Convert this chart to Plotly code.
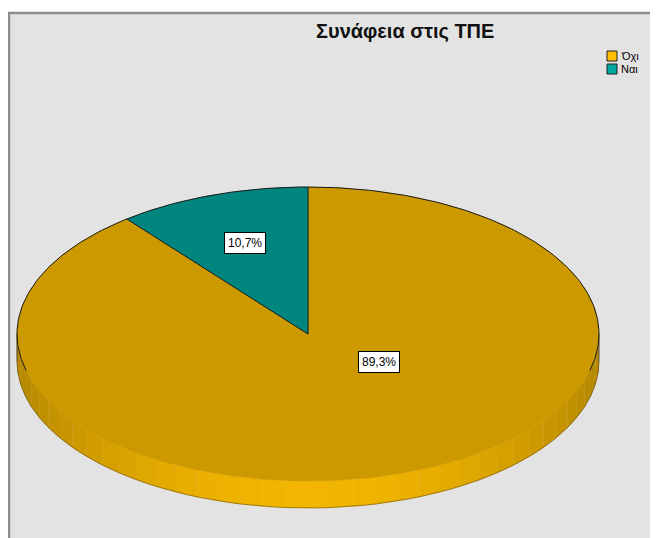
import math
import plotly.graph_objects as go

# ---- data ----
categories = ["Όχι", "Ναι"]
percentages = [89.3, 10.7]
title_text = "Συνάφεια στις ΤΠΕ"

# ---- style ----
W, H = 658, 538
OFF = 8                    # page body margin: map data coords to screen px
CX, CY = 308, 334          # centre of pie top face (px)
RX, RY = 291, 147          # ellipse radii (px)
DEPTH = 27                 # thickness of the 3D rim (px)
top_colors = ["#CC9900", "#00857F"]
side_light = ["#F2B600", "#00A39B"]
side_dark = ["#B58800", "#006E68"]
legend_colors = ["#FFC000", "#00A8A0"]
FONT = "Liberation Sans, Arial, sans-serif"


def pt(phi, depth=0.0):
    """phi: clockwise angle from 12 o'clock, radians."""
    return CX + RX * math.sin(phi), CY - RY * math.cos(phi) + depth


def hex_mix(c1, c2, t):
    a = [int(c1[i:i + 2], 16) for i in (1, 3, 5)]
    b = [int(c2[i:i + 2], 16) for i in (1, 3, 5)]
    m = [round(a[k] + (b[k] - a[k]) * t) for k in range(3)]
    return "#%02X%02X%02X" % tuple(m)


fig = go.Figure()

total = sum(percentages)
bounds = []
acc = 0.0
for p in percentages:
    start = acc / total * 2 * math.pi
    acc += p
    end = acc / total * 2 * math.pi
    bounds.append((start, end))

# ---- side rim (front half: phi between pi/2 and 3pi/2) ----
for i, (s, e) in enumerate(bounds):
    a0, a1 = max(s, math.pi / 2), min(e, 3 * math.pi / 2)
    if a1 <= a0:
        continue
    nseg = max(2, int((a1 - a0) / (math.pi / 40)))
    for k in range(nseg):
        b0 = a0 + (a1 - a0) * k / nseg
        b1 = a0 + (a1 - a0) * (k + 1) / nseg
        mid = (b0 + b1) / 2
        t = abs(math.sin(mid)) ** 2
        col = hex_mix(side_light[i], side_dark[i], t)
        steps = 4
        xs, ys = [], []
        for j in range(steps + 1):
            x, y = pt(b0 + (b1 - b0) * j / steps)
            xs.append(x); ys.append(y)
        for j in range(steps, -1, -1):
            x, y = pt(b0 + (b1 - b0) * j / steps, DEPTH)
            xs.append(x); ys.append(y)
        fig.add_trace(go.Scatter(x=xs, y=ys, fill="toself", mode="lines",
                                 fillcolor=col, line=dict(color=col, width=0.6),
                                 hoverinfo="skip", showlegend=False))
    # bottom edge outline
    xs, ys = [], []
    n = 80
    for j in range(n + 1):
        x, y = pt(a0 + (a1 - a0) * j / n, DEPTH)
        xs.append(x); ys.append(y)
    fig.add_trace(go.Scatter(x=xs, y=ys, mode="lines",
                             line=dict(color="rgba(60,40,0,0.55)", width=0.8),
                             hoverinfo="skip", showlegend=False))

# rim side edges at left and right extremes
for phi in (math.pi / 2, 3 * math.pi / 2):
    x0, y0 = pt(phi)
    x1, y1 = pt(phi, DEPTH)
    fig.add_trace(go.Scatter(x=[x0, x1], y=[y0, y1], mode="lines",
                             line=dict(color="rgba(40,30,0,0.7)", width=1),
                             hoverinfo="skip", showlegend=False))

# ---- top faces ----
for i, (s, e) in enumerate(bounds):
    n = max(8, int((e - s) / (math.pi / 180)))
    xs, ys = [CX], [CY]
    for j in range(n + 1):
        x, y = pt(s + (e - s) * j / n)
        xs.append(x); ys.append(y)
    xs.append(CX); ys.append(CY)
    fig.add_trace(go.Scatter(x=xs, y=ys, fill="toself", mode="lines",
                             fillcolor=top_colors[i],
                             line=dict(color=top_colors[i], width=0.5),
                             hoverinfo="skip", showlegend=False))

# radial edges
for i, (s, e) in enumerate(bounds):
    x, y = pt(s)
    fig.add_trace(go.Scatter(x=[CX, x], y=[CY, y], mode="lines",
                             line=dict(color="#1a1a1a", width=1),
                             hoverinfo="skip", showlegend=False))

# outline of the back arc of the top face
xs, ys = [], []
n = 240
for j in range(n + 1):
    phi = -math.pi * 0.58 + (math.pi * 1.16) * j / n
    x, y = pt(phi)
    xs.append(x); ys.append(y)
fig.add_trace(go.Scatter(x=xs, y=ys, mode="lines",
                         line=dict(color="#1a1a1a", width=1),
                         hoverinfo="skip", showlegend=False))

# ---- value labels ----
label_adjust = {0: (0.244, 0.19)}   # normalised offset for the large slice
for i, (s, e) in enumerate(bounds):
    alpha = e - s
    mid = (s + e) / 2
    if i in label_adjust:
        ux, uy = label_adjust[i]
        lx, ly = CX + ux * RX, CY + uy * RY
    else:
        f = 4 * math.sin(alpha / 2) / (3 * alpha)
        lx = CX + f * RX * math.sin(mid)
        ly = CY - f * RY * math.cos(mid)
    txt = ("%.1f%%" % percentages[i]).replace(".", ",")
    fig.add_annotation(x=lx, y=ly, text=txt, showarrow=False,
                       font=dict(family=FONT, size=12, color="#000000"),
                       bgcolor="#FFFFFF", bordercolor="#000000",
                       borderwidth=1, borderpad=3)

# ---- legend (manual) ----
for i, cat in enumerate(categories):
    y0 = 51 + i * 13
    fig.add_shape(type="rect", xref="x", yref="y", x0=607, x1=617,
                  y0=y0, y1=y0 + 10, fillcolor=legend_colors[i],
                  line=dict(color="#202020", width=1))
    fig.add_annotation(x=619, y=y0 + 5, text=cat, showarrow=False,
                       xanchor="left", yanchor="middle",
                       font=dict(family=FONT, size=11, color="#000000"))

# title
fig.add_annotation(x=405, y=31, text="<b>" + title_text + "</b>", showarrow=False,
                   xanchor="center", yanchor="middle",
                   font=dict(family=FONT, size=20, color="#111111"))

# frame
fig.add_shape(type="rect", xref="x", yref="y", x0=9, x1=700, y0=13, y1=600,
              fillcolor="#E3E3E3", line=dict(color="#8C8C8C", width=2.5),
              layer="below")

fig.update_layout(
    width=W, height=H, autosize=False,
    margin=dict(l=0, r=0, t=0, b=0),
    paper_bgcolor="#FFFFFF", plot_bgcolor="#FFFFFF",
    showlegend=False,
    xaxis=dict(range=[OFF, OFF + W], visible=False, fixedrange=True),
    yaxis=dict(range=[OFF + H, OFF], visible=False, fixedrange=True),
)

fig.write_html("out.html")
